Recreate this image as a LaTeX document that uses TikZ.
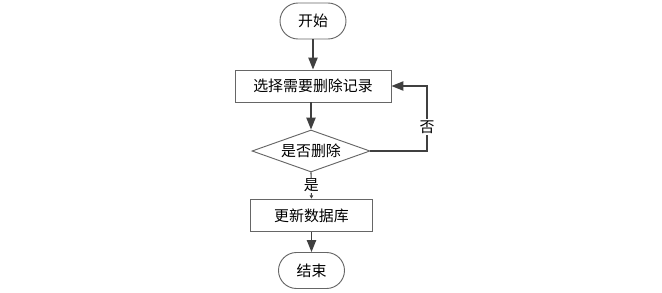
\documentclass[tikz,border=0pt]{standalone}
\usepackage{fontspec}
\setmainfont{Noto Sans CJK SC}
\usetikzlibrary{arrows.meta,shapes.geometric}
\definecolor{linec}{HTML}{404040}
\definecolor{borderc}{HTML}{666666}
\tikzset{
  every node/.style={font=\fontsize{11.2}{13}\selectfont, text=black},
  termbox/.style={draw=borderc, line width=0.7pt, rounded corners=13.5pt, minimum width=49.5pt, minimum height=27pt, inner sep=0pt},
  procbox/.style={draw=borderc, line width=0.7pt, minimum height=24pt, inner sep=0pt},
  decbox/.style={draw=borderc, line width=0.7pt, diamond, aspect=2.8, inner sep=0pt, minimum width=88.5pt, minimum height=31.5pt},
  conn/.style={draw=linec, line width=1pt, -{Triangle[length=9pt,width=7pt]}},
  smallconn/.style={draw=linec, line width=0.8pt, -{Triangle[length=2.5pt,width=2.5pt]}},
}
\begin{document}
\begin{tikzpicture}[x=0.75pt,y=-0.75pt]
\useasboundingbox (0,0) rectangle (662,293);
\node[termbox] (start) at (313,21) {开始};
\node[procbox, minimum width=117pt] (sel) at (313,86) {选择需要删除记录};
\node[decbox] (dec) at (311,151) {是否删除};
\node[procbox, minimum width=91pt, minimum height=24.5pt] (upd) at (311.5,215.5) {更新数据库};
\node[termbox] (end) at (311.5,270.5) {结束};
\coordinate (fb) at (427,151);
\coordinate (fb2) at (427,86);
\draw[conn] (start) -- (sel);
\draw[conn] (sel.south -| dec.north) -- (dec.north);
\draw[smallconn] (dec.south) -- node[fill=white, inner sep=1pt] {是} (upd.north);
\draw[conn] (upd) -- (end);
\draw[conn] (dec.east) -- (fb) -- node[pos=0.37, fill=white, inner sep=1pt] {否} (fb2) -- (sel.east);
\end{tikzpicture}
\end{document}
